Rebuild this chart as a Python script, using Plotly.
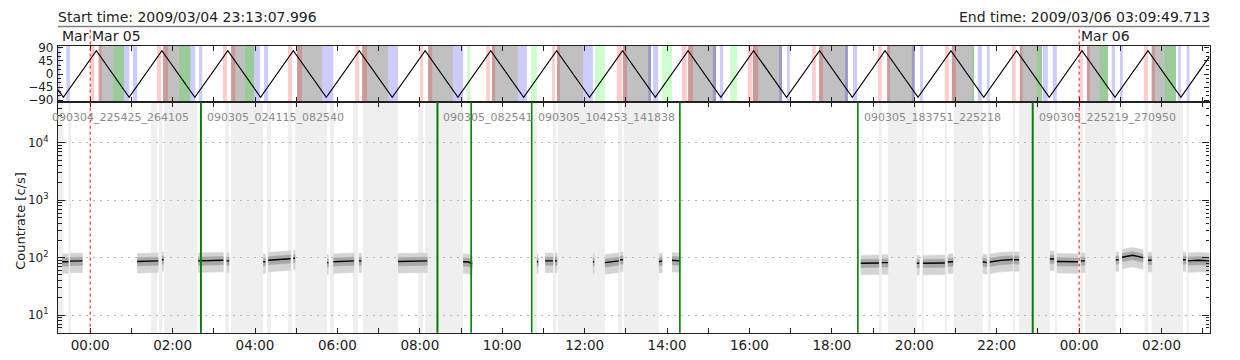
import pandas as pd
import plotly.graph_objects as go

# ---------------- data (hours since 2009-03-05 00:00) ----------------
T0 = pd.Timestamp("2009-03-05 00:00:00")
start_time = "2009-03-04 23:13:07.996"
end_time = "2009-03-06 03:09:49.713"
start_label = "Start time: 2009/03/04 23:13:07.996"
end_label = "End time: 2009/03/06 03:09:49.713"

# orbit trace vertices (top panel)
orbit_t = [-0.781, -0.65, 0.15, 0.945, 1.74, 2.54, 3.34, 4.135, 4.93, 5.73, 6.53, 7.33,
           8.13, 8.925, 9.72, 10.52, 11.32, 12.12, 12.92, 13.715, 14.51, 15.305, 16.10,
           16.90, 17.70, 18.495, 19.29, 20.09, 20.89, 21.685, 22.48, 23.275, 24.07, 24.87,
           25.67, 26.47, 27.164]
orbit_v = [-54, -80, 80, -80, 80, -80, 80, -80, 80, -80, 80, -80,
           80, -80, 80, -80, 80, -80, 80, -80, 80, -80, 80,
           -80, 80, -80, 80, -80, 80, -80, 80, -80, 80, -80,
           80, -80, 60]

top_gray = [[0.22, 0.82], [1.77, 2.43], [3.42, 3.98], [5.02, 5.63], [6.60, 7.23], [8.20, 8.81],
            [9.75, 10.38], [11.33, 11.96], [12.93, 13.61], [14.51, 15.19], [16.08, 16.79],
            [17.69, 18.39], [19.34, 20.01], [20.91, 21.45], [22.56, 23.10], [24.19, 24.70],
            [25.76, 26.35]]
top_pink = [[0.02, 0.10], [0.19, 0.28], [1.62, 1.72], [1.77, 1.89], [3.22, 3.32], [3.42, 3.52],
            [4.80, 4.90], [5.02, 5.14], [6.43, 6.53], [6.60, 6.72], [8.01, 8.08], [8.20, 8.30],
            [9.61, 9.70], [9.75, 9.83], [11.21, 11.28], [11.33, 11.40], [12.78, 12.91],
            [12.93, 13.03], [14.36, 14.48], [14.51, 14.63], [15.96, 16.06], [16.08, 16.21],
            [17.52, 17.61], [17.69, 17.78], [19.12, 19.21], [19.34, 19.41], [20.74, 20.84],
            [20.91, 21.01], [22.37, 22.46], [22.56, 22.63], [24.02, 24.09], [24.19, 24.26],
            [25.57, 25.67], [25.76, 25.84]]
top_blue = [[-0.78, -0.73], [-0.58, -0.49], [0.82, 0.95], [1.04, 1.14], [2.43, 2.55], [2.64, 2.72],
            [3.98, 4.12], [4.22, 4.32], [5.63, 5.90], [7.23, 7.47], [8.81, 9.05], [10.38, 10.60],
            [11.96, 12.20], [13.54, 13.61], [13.66, 13.78], [15.11, 15.19], [15.28, 15.36],
            [16.72, 16.79], [16.91, 16.98], [18.32, 18.39], [18.51, 18.61], [19.94, 20.01],
            [20.14, 20.21], [21.54, 21.64], [21.76, 21.83], [23.12, 23.24], [23.36, 23.46],
            [24.79, 24.87], [24.99, 25.06], [26.40, 26.47], [26.61, 26.68]]
top_green = [[0.56, 0.82], [2.16, 2.43], [3.76, 3.98], [9.15, 9.22], [10.70, 10.84], [12.25, 12.49],
             [13.88, 14.12], [15.53, 15.70], [21.40, 21.45], [22.97, 23.10], [24.50, 24.70],
             [26.08, 26.35]]

bottom_bad = [[-0.78, -0.65], [-0.53, -0.46], [1.48, 1.63], [1.67, 1.75], [1.80, 2.60], [3.28, 3.37],
              [3.42, 4.20], [4.29, 4.39], [4.80, 4.90], [4.97, 5.75], [5.82, 5.92], [6.38, 6.50],
              [6.62, 7.47], [7.96, 8.08], [8.13, 9.05], [10.75, 10.84], [11.23, 11.31],
              [11.35, 12.49], [12.81, 12.91], [12.95, 13.80], [19.14, 19.21], [19.36, 20.06],
              [20.18, 20.23], [20.74, 20.79], [20.96, 21.66], [21.78, 21.86], [22.39, 22.44],
              [22.54, 23.29], [23.41, 23.46], [24.02, 24.09], [24.14, 24.89], [25.04, 25.08],
              [25.59, 25.67], [25.76, 26.52], [26.61, 26.66]]

# data-file boundaries (green lines) and labels
boundary_t = [2.6847, 2.6875, 8.4278, 8.4281, 9.245, 10.7147, 14.3106, 18.6308, 22.8717, 22.8720]
file_label_t = [-0.781, 2.6875, 8.4281, 10.7147, 18.6308, 22.8720]
file_labels = ["090304_225425_264105", "090305_024115_082540", "090305_082541",
               "090305_104253_141838", "090305_183751_225218", "090305_225219_270950"]

# count-rate segments: times and mean rates (c/s)
seg_t = [[-0.68, -0.53], [-0.49, -0.19], [1.14, 1.40, 1.65], [1.74, 1.78], [2.62, 2.90, 3.23],
         [3.31, 3.37], [4.20, 4.25], [4.32, 4.60, 4.86], [4.93, 4.97], [5.75, 5.78],
         [5.90, 6.15, 6.40], [6.52, 6.58], [7.47, 7.80, 8.18], [9.05, 9.18, 9.27], [10.84, 10.87],
         [11.04, 11.23], [11.28, 11.33], [12.20, 12.23], [12.49, 12.66, 12.83], [12.86, 12.93],
         [13.80, 13.88], [14.12, 14.31], [18.70, 19.14], [19.21, 19.36], [20.06, 20.12],
         [20.21, 20.74], [20.81, 20.94], [21.66, 21.76], [21.83, 22.10, 22.39], [22.42, 22.54],
         [23.29, 23.39], [23.46, 23.97], [24.04, 24.14], [24.89, 24.96], [25.04, 25.30, 25.55],
         [25.67, 25.76], [26.52, 26.59], [26.64, 26.90, 27.16]]
seg_r = [[85, 85], [87, 88], [86, 87, 88], [92, 92], [88, 90, 90],
         [88, 88], [85, 85], [90, 92, 96], [98, 98], [82, 82],
         [85, 86, 88], [88, 88], [86, 87, 88], [85, 84, 78], [85, 85],
         [88, 88], [88, 88], [85, 85], [82, 85, 88], [92, 92],
         [85, 88], [90, 88], [80, 81], [82, 82], [80, 80],
         [80, 81], [84, 85], [85, 82], [84, 90, 93], [92, 92],
         [95, 95], [86, 85], [88, 88], [92, 92], [102, 110, 100],
         [90, 90], [92, 92], [88, 90, 88]]

ytick_vals = [10, 100, 1000, 10000]
ytick_text = ["10<sup>1</sup>", "10<sup>2</sup>", "10<sup>3</sup>", "10<sup>4</sup>"]
orbit_ticks = [-90, -45, 0, 45, 90]

# ---------------- helpers / layout constants ----------------
def ts(h):
    return (T0 + pd.Timedelta(hours=h)).strftime("%Y-%m-%d %H:%M:%S.%f")

W, H = 1240, 360
XL, XR = 58 / W, 1209.5 / W
TOP_DOM = [1 - 100 / H, 1 - 42 / H]
BOT_DOM = [1 - 337 / H, 1 - 100 / H]
FONT = "DejaVu Sans"
AX = "#222222"
OUTER, INNER = 0.37, 0.16

fig = go.Figure()

# noise envelopes and mean curves
for frac, col in [(OUTER, "#d4d4d4"), (INNER, "#a8a8a8")]:
    xs, ys = [], []
    for t, r in zip(seg_t, seg_r):
        xs += [ts(v) for v in t] + [ts(v) for v in t[::-1]] + [None]
        ys += [v * (1 + frac) for v in r] + [v * (1 - frac) for v in r[::-1]] + [None]
    fig.add_trace(go.Scatter(x=xs, y=ys, mode="lines", fill="toself", fillcolor=col,
                             line=dict(width=0.6, color=col), xaxis="x", yaxis="y",
                             hoverinfo="skip"))
mx, my = [], []
for t, r in zip(seg_t, seg_r):
    mx += [ts(v) for v in t] + [None]
    my += list(r) + [None]
fig.add_trace(go.Scatter(x=mx, y=my, mode="lines", line=dict(color="black", width=1.4),
                         xaxis="x", yaxis="y"))

# orbit trace
fig.add_trace(go.Scatter(x=[ts(v) for v in orbit_t], y=orbit_v, mode="lines",
                         line=dict(color="black", width=1.2), xaxis="x2", yaxis="y2"))

shapes = []
for a, b in bottom_bad:
    shapes.append(dict(type="rect", xref="x", yref="y domain", x0=ts(a), x1=ts(b), y0=0, y1=1,
                       fillcolor="#efefef", line=dict(width=0), layer="below"))
for a, b in top_gray:
    shapes.append(dict(type="rect", xref="x2", yref="y2 domain", x0=ts(a), x1=ts(b), y0=0, y1=1,
                       fillcolor="#c0c0c0", line=dict(width=0), layer="below"))
for lst, col in [(top_pink, "rgba(255,0,0,0.2)"), (top_blue, "rgba(0,0,255,0.2)"),
                 (top_green, "rgba(0,255,0,0.2)")]:
    for a, b in lst:
        shapes.append(dict(type="rect", xref="x2", yref="y2 domain", x0=ts(a), x1=ts(b), y0=0, y1=1,
                           fillcolor=col, line=dict(width=0), layer="below"))
for t in boundary_t:
    shapes.append(dict(type="line", xref="x", yref="y domain", x0=ts(t), x1=ts(t), y0=0, y1=1,
                       line=dict(color="#008000", width=1.6), layer="above"))
for t in [0, 24]:
    shapes.append(dict(type="line", xref="x", yref="paper", x0=ts(t), x1=ts(t),
                       y0=BOT_DOM[0], y1=1 - 25 / H,
                       line=dict(color="red", width=1, dash="dot"), layer="above"))
shapes.append(dict(type="line", xref="paper", yref="paper", x0=XL, x1=XR, y0=1 - 22 / H, y1=1 - 22 / H,
                   line=dict(color="#808080", width=1.5)))

ann = [
    dict(text=start_label, xref="paper", yref="paper", x=XL - 2 / W, y=1 - 12 / H, xanchor="left",
         yanchor="middle", showarrow=False, font=dict(size=14, color=AX)),
    dict(text=end_label, xref="paper", yref="paper", x=XR + 2 / W, y=1 - 12 / H, xanchor="right",
         yanchor="middle", showarrow=False, font=dict(size=14, color=AX)),
    dict(text="Mar", xref="paper", yref="paper", x=60 / W, y=1 - 32 / H, xanchor="left",
         yanchor="middle", showarrow=False, font=dict(size=14, color=AX)),
    dict(text="Countrate [c/s]", xref="paper", yref="paper", x=21 / W, y=1 - 222 / H,
         xanchor="center", yanchor="middle",
         textangle=-90, showarrow=False, font=dict(size=13, color=AX)),
]
for t, lab in [(0, "Mar 05"), (24, "Mar 06")]:
    ann.append(dict(text=lab, xref="x", yref="paper", x=ts(t), y=1 - 32 / H, xanchor="left",
                    yanchor="middle", xshift=0, showarrow=False, font=dict(size=14, color=AX)))
for i, (t, lab) in enumerate(zip(file_label_t, file_labels)):
    ann.append(dict(text=lab, xref="x", yref="paper", x=ts(t), y=1 - 116 / H, xanchor="left",
                    yanchor="middle", xshift=(-8 if i == 0 else 4), showarrow=False,
                    font=dict(size=11, color="#8a8a8a")))

xcommon = dict(type="date", range=[start_time, end_time], tick0="2009-03-05 00:00:00",
               dtick=7200000, tickformat="%H:%M", ticks="inside", ticklen=5, tickwidth=1,
               tickcolor=AX, showline=True, linecolor=AX, linewidth=1.2, mirror="ticks",
               showgrid=False, zeroline=False, domain=[XL, XR],
               minor=dict(ticks="inside", ticklen=5, dtick=3600000, tickcolor=AX, showgrid=False),
               tickfont=dict(size=13.5, color=AX))

fig.update_layout(
    width=W, height=H, margin=dict(l=0, r=0, t=0, b=0),
    paper_bgcolor="white", plot_bgcolor="white", showlegend=False,
    font=dict(family=FONT, color=AX),
    xaxis=dict(anchor="y", **xcommon),
    xaxis2=dict(anchor="y2", matches="x", showticklabels=False, **xcommon),
    yaxis=dict(domain=BOT_DOM, anchor="x", type="log", range=[0.695, 4.707],
               tickmode="array", tickvals=ytick_vals, ticktext=ytick_text,
               ticks="inside", ticklen=7, tickcolor=AX, showline=True, linecolor=AX,
               linewidth=1.2, mirror="ticks", showgrid=True, gridcolor="#b8b8b8",
               griddash="2px,5px", gridwidth=1, zeroline=False, ticklabelstandoff=6,
               minor=dict(ticks="inside", ticklen=3.5, tickcolor=AX, tickmode="array",
                          tickvals=[m * 10 ** k for k in range(0, 5) for m in range(2, 10)],
                          showgrid=False),
               tickfont=dict(size=12, color=AX)),
    yaxis2=dict(domain=TOP_DOM, anchor="x2", range=[-97, 97], tickmode="array",
                tickvals=orbit_ticks, ticks="inside", ticklen=5, tickcolor=AX, showline=True,
                linecolor=AX, linewidth=1.2, mirror="ticks", showgrid=False, zeroline=False,
                ticklabelstandoff=1,
                minor=dict(ticks="inside", ticklen=3, tickcolor=AX, tickmode="array",
                           tickvals=[-75, -60, -30, -15, 15, 30, 60, 75]),
                tickfont=dict(size=12, color=AX)),
    shapes=shapes, annotations=ann,
)

fig.write_html("out.html")
